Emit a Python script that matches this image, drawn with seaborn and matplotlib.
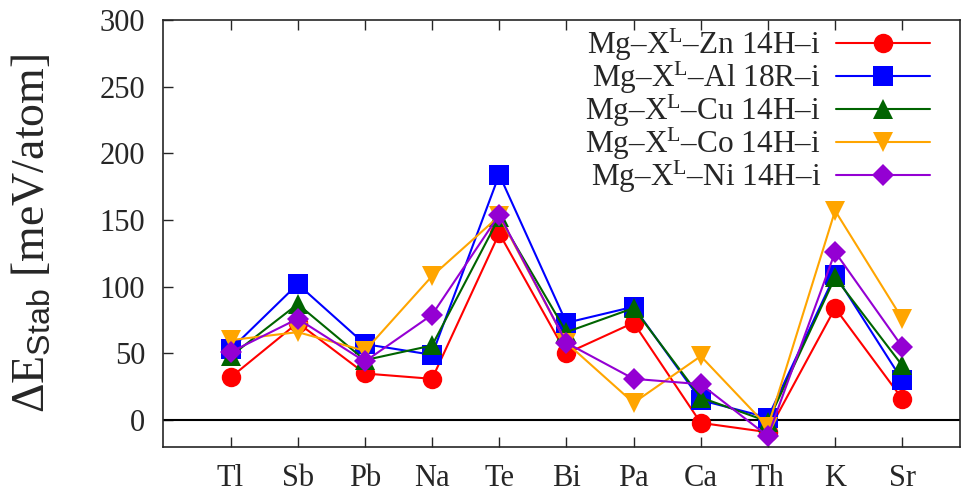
import matplotlib
matplotlib.use("Agg")
import matplotlib.pyplot as plt
import seaborn as sns
import pandas as pd

# elements on the x axis
elements = ['Tl', 'Sb', 'Pb', 'Na', 'Te', 'Bi', 'Pa', 'Ca', 'Th', 'K', 'Sr']

# stabilisation energies [meV/atom]
zn_14h = [32, 73, 35, 31, 140, 50, 73, -2, -9, 84, 16]
al_18r = [53, 102, 57, 49, 184, 73, 85, 15, 2, 109, 30]
cu_14h = [48, 87, 45, 56, 152, 66, 84, 17, -1, 107, 41]
co_14h = [60, 66, 52, 108, 153, 58, 13, 48, -5, 157, 76]
ni_14h = [51, 76, 44, 79, 154, 58, 31, 27, -12, 126, 55]

series_names = [
    'Mg–X$^{\\mathrm{L}}$–Zn 14H–i',
    'Mg–X$^{\\mathrm{L}}$–Al 18R–i',
    'Mg–X$^{\\mathrm{L}}$–Cu 14H–i',
    'Mg–X$^{\\mathrm{L}}$–Co 14H–i',
    'Mg–X$^{\\mathrm{L}}$–Ni 14H–i',
]
colors = ['#ff0000', '#0000ff', '#006400', '#ffa500', '#9400d3']
markers = ['o', 's', '^', 'v', 'D']

sns.set_style('ticks')
plt.rcParams['font.family'] = ['Liberation Serif', 'DejaVu Serif']
plt.rcParams['mathtext.fontset'] = 'custom'
plt.rcParams['mathtext.rm'] = 'Liberation Serif'
plt.rcParams['mathtext.it'] = 'Liberation Serif:italic'
plt.rcParams['mathtext.sf'] = 'Liberation Sans'

# long-form table for seaborn
rows = []
for name, vals in zip(series_names, [zn_14h, al_18r, cu_14h, co_14h, ni_14h]):
    for el, v in zip(elements, vals):
        rows.append({'element': el, 'energy': v, 'series': name})
df = pd.DataFrame(rows)

fig = plt.figure(figsize=(9.61, 4.96), dpi=100)
ax = fig.add_axes([0.17, 0.099, 0.829, 0.861])

ax.axhline(0, color='black', lw=1.5, zorder=1)

sns.lineplot(data=df, x='element', y='energy', hue='series', style='series',
             hue_order=series_names, style_order=series_names,
             palette=colors, markers=markers, dashes=False,
             markersize=14, markeredgewidth=0, lw=1.5, sort=False, ax=ax)

# diamonds come out larger than the other shapes, shrink them a bit
for line in ax.lines:
    if line.get_marker() == 'D':
        line.set_markersize(11)

ax.set_xlim(-1, 10.86)
ax.set_ylim(-20, 300)
ax.set_yticks([0, 50, 100, 150, 200, 250, 300])
ax.set_xlabel('')
ax.set_ylabel('$\\Delta$E$_{\\mathsf{Stab}}$ [meV/atom]', fontsize=33)
ax.yaxis.set_label_coords(-0.137, 0.5)
ax.tick_params(axis='both', direction='in', labelsize=22, length=7, width=1,
               top=True, right=False)
ax.tick_params(axis='y', pad=13)
ax.tick_params(axis='x', pad=12)
for s in ax.spines.values():
    s.set_linewidth(1.2)

handles, labels = ax.get_legend_handles_labels()
for h in handles:
    if h.get_marker() == 'D':
        h.set_markersize(11)
ax.legend(handles, labels, loc='upper right', bbox_to_anchor=(0.99, 1.035),
          frameon=False, markerfirst=False, fontsize=22.5, handlelength=3.0,
          labelspacing=-0.1, handletextpad=0.5, borderaxespad=0.3)

fig.savefig('out.png', dpi=100)
